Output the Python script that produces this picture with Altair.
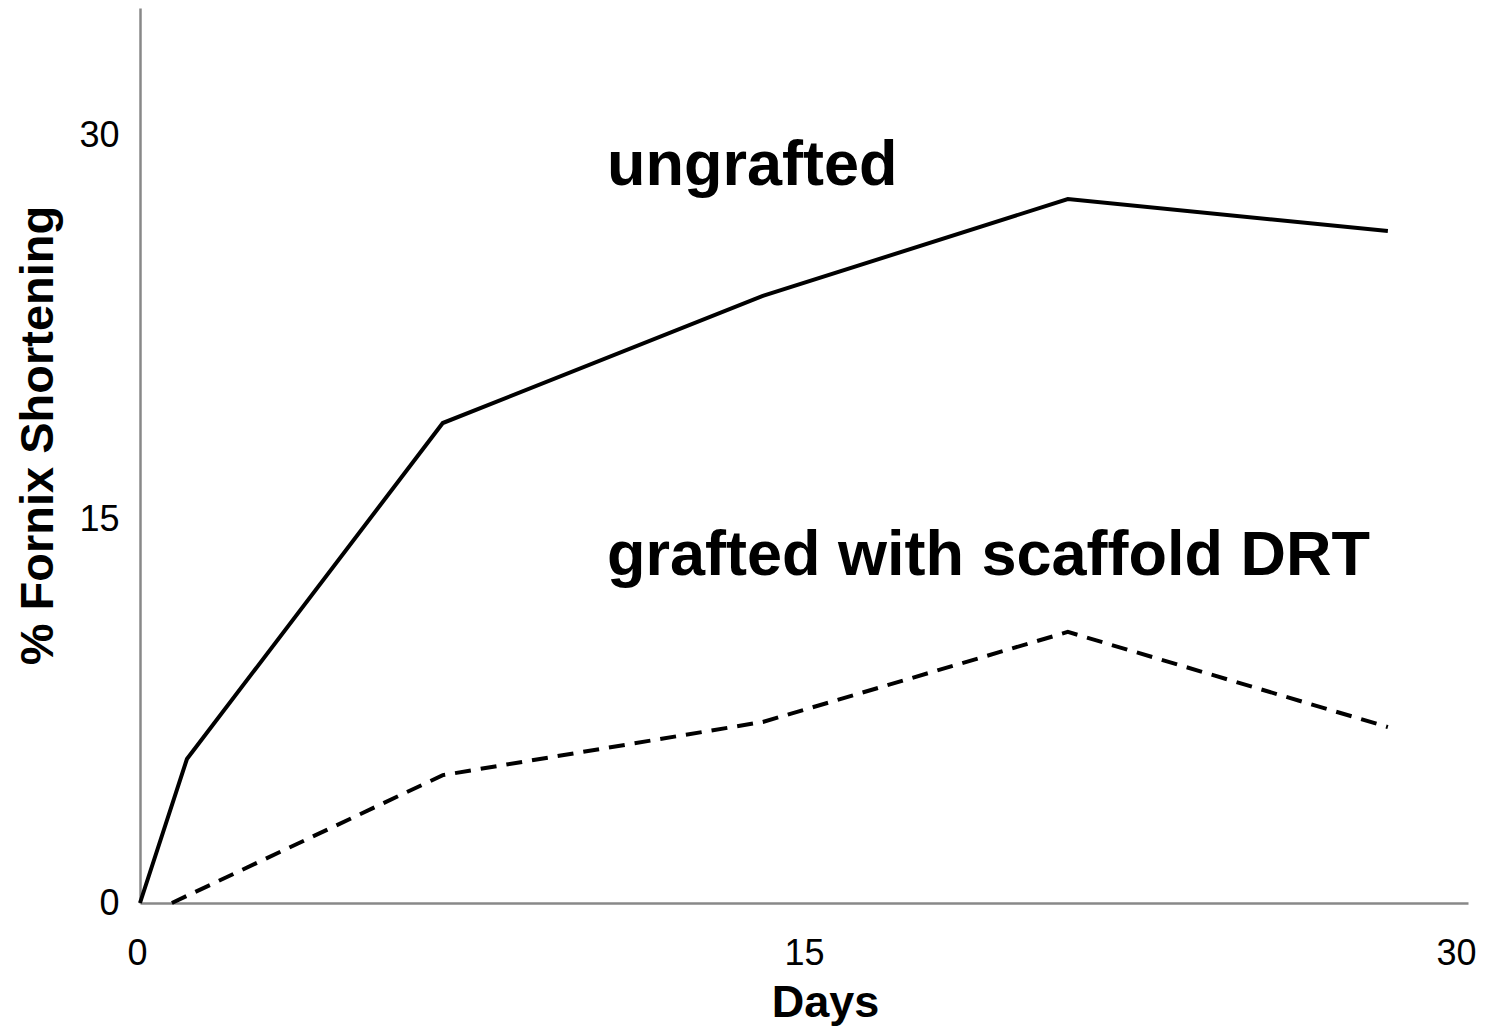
import altair as alt
import pandas as pd

# Ungrafted series (solid)
ungrafted_days = [0, 1.06, 6.84, 14.07, 20.96, 28.19]
ungrafted_vals = [0, 5.63, 18.77, 23.74, 27.53, 26.28]

# Grafted with scaffold DRT (dashed)
grafted_days = [0.72, 6.84, 14.07, 20.96, 28.19]
grafted_vals = [0, 5.0, 7.08, 10.6, 6.88]

x_ticks = [0, 15, 30]
y_ticks = [0, 15, 30]

df_u = pd.DataFrame({"day": ungrafted_days, "val": ungrafted_vals, "order": range(len(ungrafted_days))})
df_g = pd.DataFrame({"day": grafted_days, "val": grafted_vals, "order": range(len(grafted_days))})

FONT = "Liberation Sans"

x_scale = alt.Scale(domain=[0, 30], nice=False, zero=False)
y_scale = alt.Scale(domain=[0, 35], nice=False)

x_axis = alt.Axis(
    values=x_ticks, ticks=False, tickSize=0, grid=False, labelFlush=False,
    labelFontSize=36, labelFont=FONT, labelColor="black", labelPadding=33,
    labelOffset={"expr": "datum.value == 30 ? -12 : (datum.value == 0 ? -3 : 0)"},
    domainColor="#888888", domainWidth=2.5,
    title="Days", titleFont=FONT, titleFontSize=45, titleFontWeight="bold",
    titleColor="black", titleX=685, titleY=99, titleBaseline="middle", titleAlign="center",
)
y_axis = alt.Axis(
    values=y_ticks, ticks=False, tickSize=0, grid=False, labelFlush=False,
    labelFontSize=36, labelFont=FONT, labelColor="black", labelPadding=21,
    domainColor="#888888", domainWidth=2.5,
    title="% Fornix Shortening", titleFont=FONT, titleFontSize=47, titleFontWeight="bold",
    titleColor="black", titleX=-102, titleY=427, titleBaseline="middle", titleAlign="center",
    titleAngle=270,
)

line_u = alt.Chart(df_u).mark_line(color="black", strokeWidth=4).encode(
    x=alt.X("day:Q", scale=x_scale, axis=x_axis),
    y=alt.Y("val:Q", scale=y_scale, axis=y_axis),
    order="order:Q",
)
line_g = alt.Chart(df_g).mark_line(color="black", strokeWidth=4, strokeDash=[16, 10]).encode(
    x=alt.X("day:Q", scale=x_scale),
    y=alt.Y("val:Q", scale=y_scale),
    order="order:Q",
)

labels = ["ungrafted", "grafted with scaffold DRT"]
lab_u = alt.Chart(pd.DataFrame({"t": [labels[0]]})).mark_text(
    font=FONT, fontSize=63, fontWeight="bold", align="left", baseline="middle", color="black"
).encode(text="t:N", x=alt.value(467), y=alt.value(158))
lab_g = alt.Chart(pd.DataFrame({"t": [labels[1]]})).mark_text(
    font=FONT, fontSize=63, fontWeight="bold", align="left", baseline="middle", color="black"
).encode(text="t:N", x=alt.value(467), y=alt.value(548))

chart = alt.layer(line_u, line_g, lab_u, lab_g).properties(
    width=1328, height=895,
    autosize=alt.AutoSizeParams(type="none"),
    padding={"left": 132, "top": 0, "right": 8, "bottom": 123},
    background="white",
).configure_view(stroke=None, strokeWidth=0)

chart.save("out.html", embed_options={"renderer": "svg", "actions": False})
